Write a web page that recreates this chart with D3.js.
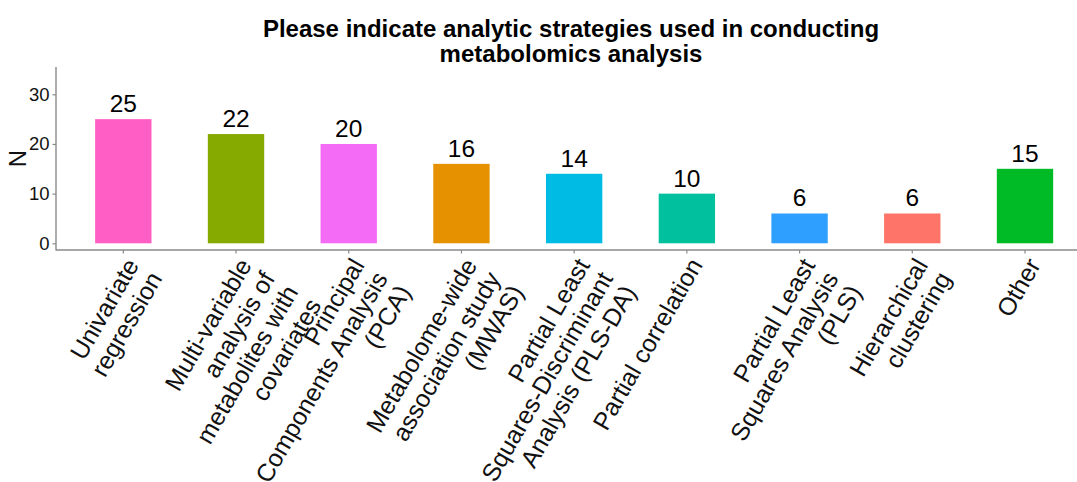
<!DOCTYPE html>
<html>
<head>
<meta charset="utf-8">
<script src="https://cdn.jsdelivr.net/npm/d3@7"></script>
<style>
  html, body { margin: 0; padding: 0; background: #fff; }
  svg { display: block; font-family: "Liberation Sans", Arial, sans-serif; }
</style>
</head>
<body>
<svg id="chart" width="1077" height="482"></svg>
<script>
const categories = [
  "Univariate regression",
  "Multi-variable analysis of metabolites with covariates",
  "Principal Components Analysis (PCA)",
  "Metabolome-wide association study (MWAS)",
  "Partial Least Squares-Discriminant Analysis (PLS-DA)",
  "Partial correlation",
  "Partial Least Squares Analysis (PLS)",
  "Hierarchical clustering",
  "Other"
];
const categoryLines = [
  ["Univariate", "regression"],
  ["Multi-variable", "analysis of", "metabolites with", "covariates"],
  ["Principal", "Components Analysis", "(PCA)"],
  ["Metabolome-wide", "association study", "(MWAS)"],
  ["Partial Least", "Squares-Discriminant", "Analysis (PLS-DA)"],
  ["Partial correlation"],
  ["Partial Least", "Squares Analysis", "(PLS)"],
  ["Hierarchical", "clustering"],
  ["Other"]
];
const counts = [25, 22, 20, 16, 14, 10, 6, 6, 15];
const barColors = ["#FF5FC4", "#87AA00", "#F46BF5", "#E69100", "#00BBE3", "#00C09D", "#2E9FFF", "#FF7468", "#00BA26"];
const yTicks = [0, 10, 20, 30];
const titleLines = ["Please indicate analytic strategies used in conducting", "metabolomics analysis"];
const yTitle = "N";

const svg = d3.select("#chart");
const plotLeft = 56, plotRight = 1077, plotTop = 67, plotBottom = 250;

const x = d3.scaleBand().domain(categories).range([66.95, 1081.35]).paddingInner(0.5).paddingOuter(0.25);
const y = d3.scaleLinear().domain([-1.35, 35.5]).range([plotBottom, plotTop]);

// bars
svg.append("g").selectAll("rect").data(categories).join("rect")
  .attr("x", d => x(d))
  .attr("width", x.bandwidth())
  .attr("y", (d, i) => y(counts[i]))
  .attr("height", (d, i) => y(0) - y(counts[i]))
  .attr("fill", (d, i) => barColors[i]);

// value labels
svg.append("g").selectAll("text").data(categories).join("text")
  .attr("x", d => x(d) + x.bandwidth() / 2)
  .attr("y", (d, i) => y(counts[i]) - 7)
  .attr("text-anchor", "middle")
  .attr("font-size", 24.5)
  .attr("fill", "#000")
  .text((d, i) => counts[i]);

// y axis
const yAxis = svg.append("g").attr("transform", `translate(${plotLeft},0)`)
  .call(d3.axisLeft(y).tickValues(yTicks).tickSize(3.5).tickPadding(3).tickFormat(d3.format("d")));
yAxis.select(".domain").attr("d", `M0,${plotTop}V${plotBottom + 0.5}`).attr("stroke", "#8a8a8a").attr("stroke-width", 1.4);
yAxis.selectAll(".tick line").attr("stroke", "#8a8a8a").attr("stroke-width", 1.2);
yAxis.selectAll(".tick text").attr("font-size", 18.5).attr("fill", "#111").attr("font-family", "Liberation Sans, Arial, sans-serif");

// x axis
const xAxis = svg.append("g").attr("transform", `translate(0,${plotBottom})`)
  .call(d3.axisBottom(x).tickSize(3.5).tickFormat(""));
xAxis.select(".domain").attr("d", `M${plotLeft},0H${plotRight}`).attr("stroke", "#8a8a8a").attr("stroke-width", 1.4);
xAxis.selectAll(".tick line").attr("stroke", "#8a8a8a").attr("stroke-width", 1.2);

// rotated x labels
const fs = 24.8;
const lab = svg.append("g").selectAll("g").data(categories).join("g")
  .attr("transform", d => `translate(${x(d) + x.bandwidth() / 2 + 1},${plotBottom + 6}) rotate(-60)`);
lab.each(function(d, i) {
  const t = d3.select(this).append("text")
    .attr("text-anchor", "end")
    .attr("font-size", fs)
    .attr("fill", "#111");
  categoryLines[i].forEach((line, j) => {
    t.append("tspan").attr("x", 0).attr("y", fs * 0.72 + j * fs * 1.08).text(line);
  });
});

// y title
svg.append("text")
  .attr("transform", `translate(26,${(plotTop + plotBottom) / 2}) rotate(-90)`)
  .attr("text-anchor", "middle")
  .attr("font-size", 24)
  .attr("fill", "#111")
  .text(yTitle);

// title
const title = svg.append("text")
  .attr("text-anchor", "middle")
  .attr("font-size", 24)
  .attr("font-weight", "bold")
  .attr("fill", "#000");
titleLines.forEach((l, j) => {
  title.append("tspan").attr("x", 571).attr("y", 37 + j * 25).text(l);
});
</script>
</body>
</html>
